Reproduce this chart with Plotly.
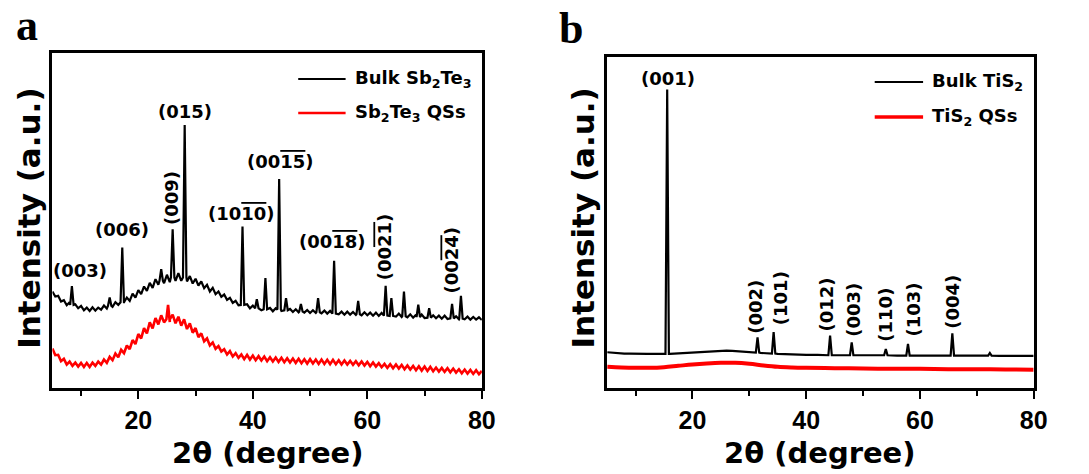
import plotly.graph_objects as go

# ---------------- Panel a : Sb2Te3 ----------------
a_x = [5.0,5.5,6.0,6.5,7.0,7.5,8.0,8.5,9.0,9.5,10.0,10.5,11.0,11.5,12.0,12.5,13.0,13.5,14.0,14.5,
       15.0,15.5,16.0,16.5,17.0,17.5,18.0,18.5,19.0,19.5,20.0,20.5,21.0,21.5,22.0,22.5,23.0,23.5,24.0,24.5,
       25.0,25.5,26.0,26.5,27.0,27.5,28.0,28.5,29.0,29.5,30.0,30.5,31.0,31.5,32.0,32.5,33.0,33.5,34.0,34.5,
       35.0,35.5,36.0,36.5,37.0,37.5,38.0,38.5,39.0,39.5,40.0,40.5,41.0,41.5,42.0,42.5,43.0,43.5,44.0,44.5,
       45.0,45.5,46.0,46.5,47.0,47.5,48.0,48.5,49.0,49.5,50.0,50.5,51.0,51.5,52.0,52.5,53.0,53.5,54.0,54.5,
       55.0,55.5,56.0,56.5,57.0,57.5,58.0,58.5,59.0,59.5,60.0,60.5,61.0,61.5,62.0,62.5,63.0,63.5,64.0,64.5,
       65.0,65.5,66.0,66.5,67.0,67.5,68.0,68.5,69.0,69.5,70.0,70.5,71.0,71.5,72.0,72.5,73.0,73.5,74.0,74.5,
       75.0,75.5,76.0,76.5,77.0,77.5,78.0,78.5,79.0,79.5,80.0]
a_bulk = [28.8,27.3,27.5,25.8,26.2,24.7,25.6,24.4,25.0,23.8,24.5,23.2,24.0,23.0,24.1,23.1,24.0,23.4,24.6,23.7,
          25.3,24.2,25.6,24.8,26.2,25.3,27.0,26.0,28.2,27.0,29.2,28.0,30.3,29.0,31.4,29.9,32.5,30.8,33.4,31.3,
          33.8,31.6,34.2,32.0,34.3,32.0,34.0,31.8,33.4,31.2,32.6,30.6,31.8,29.8,30.8,28.8,29.9,28.0,28.8,27.2,
          27.9,26.3,26.9,25.4,26.0,24.7,25.4,24.3,25.0,23.8,24.6,23.5,24.3,23.2,24.0,23.0,23.9,22.9,23.8,22.9,
          23.0,23.7,22.8,23.6,22.7,23.5,22.6,23.4,22.5,23.3,22.4,23.2,22.4,23.6,22.3,23.1,22.2,23.0,22.1,22.9,
          22.0,22.8,21.9,22.8,21.9,22.7,21.8,22.9,21.7,22.6,21.7,22.5,21.6,22.5,21.5,22.4,21.5,22.3,21.5,22.3,
          21.3,22.2,21.2,22.1,21.1,22.0,21.0,21.9,21.0,21.9,20.9,21.8,20.8,21.7,20.8,21.6,20.7,21.6,20.6,21.5,
          20.6,21.4,20.5,21.4,20.5,21.3,20.4,21.2,20.4,21.1,20.3]
a_qs = [11.8,9.8,9.9,8.0,8.7,7.0,7.9,6.6,7.6,6.4,7.5,6.3,7.5,6.3,7.6,6.6,7.9,7.0,8.5,7.5,
        9.3,8.3,10.3,9.2,11.4,10.4,12.7,11.6,14.3,13.1,16.1,14.8,17.9,16.3,19.6,17.8,20.9,19.0,21.7,19.6,
        22.0,19.7,21.9,19.3,21.3,18.6,20.5,17.6,19.3,16.5,17.9,15.2,16.3,13.9,14.8,12.7,13.6,11.7,12.5,10.9,
        11.6,10.0,11.0,9.4,10.4,9.0,10.0,8.6,9.9,8.5,9.7,8.3,9.5,8.2,9.4,8.0,9.2,7.9,9.1,7.8,
        9.0,7.7,8.9,7.6,8.8,7.5,8.7,7.4,8.6,7.3,8.6,7.3,8.5,7.2,8.5,7.2,8.4,7.1,8.4,7.1,
        8.3,7.0,8.2,7.0,8.1,6.9,8.0,6.8,7.9,6.7,7.8,6.5,7.6,6.4,7.4,6.2,7.2,6.0,7.1,5.9,
        7.0,5.8,6.9,5.6,6.7,5.5,6.6,5.3,6.5,5.2,6.4,5.1,6.3,5.0,6.1,4.9,6.0,4.8,5.9,4.7,
        5.8,4.6,5.6,4.4,5.5,4.3,5.4,4.2,5.3,4.1,5.1]
# Bragg peaks of bulk Sb2Te3: position, apex height, foot level
a_peak_x    = [8.4, 15.0, 17.2, 24.0, 26.0, 28.1, 38.2, 40.7, 42.2, 44.6, 45.8, 48.4, 51.4, 54.2,
               58.4, 63.2, 64.2, 66.4, 68.9, 70.8, 74.8, 76.35]
a_peak_top  = [30.4, 27.0, 41.9, 35.5, 47.4, 78.5, 48.2, 26.5, 32.8, 62.4, 26.8, 25.1, 26.8, 38.0,
               26.0, 30.5, 26.8, 28.8, 24.9, 23.8, 25.1, 27.5]
a_peak_foot = [24.8, 24.5, 25.6, 32.0, 33.0, 33.0, 24.8, 23.8, 23.5, 23.4, 23.2, 22.8, 22.6, 22.2,
               22.0, 21.6, 21.5, 21.4, 21.2, 21.0, 20.8, 20.7]
a_qs_spike_x = [25.2]
a_qs_spike_top = [24.8]
a_qs_spike_foot = [20.5]

OL = "<span style='text-decoration:overline'>{}</span>"
a_labels = ["(003)", "(006)", "(015)", "(009)", "(10" + OL.format("10") + ")",
            "(00" + OL.format("15") + ")", "(00" + OL.format("18") + ")",
            "(00" + OL.format("21") + ")", "(00" + OL.format("24") + ")"]
a_label_x = [9.75, 17.2, 28.2, 25.7, 38.0, 44.8, 53.9, 63.15, 74.7]
a_label_y = [35.2, 47.2, 82.5, 56.7, 52.2, 67.5, 43.6, 42.1, 38.2]
a_label_rot = [0, 0, 0, -90, 0, 0, 0, -90, -90]

# ---------------- Panel b : TiS2 ----------------
b_x = [5,6,7,8,9,10,11,12,13,14,15,16,17,18,19,20,21,22,23,24,25,26,27,28,29,30,31,32,33,34,35,36,37,38,39,40,
       42,44,46,48,50,52,54,56,58,60,62,64,66,68,70,72,74,76,78,80]
b_bulk = [10.8,10.6,10.5,10.4,10.4,10.3,10.3,10.3,10.3,10.3,10.3,10.3,10.4,10.5,10.7,10.9,11.0,11.1,11.2,11.3,
          11.3,11.3,11.2,11.1,11.0,10.9,10.7,10.6,10.5,10.4,10.3,10.2,10.1,10.1,10.0,10.0,
          10.0,9.9,9.9,9.9,9.9,9.9,9.9,9.8,9.8,9.8,9.8,9.8,9.8,9.8,9.8,9.8,9.7,9.7,9.7,9.7]
b_peak_x    = [15.55, 31.44, 34.27, 44.2, 48.0, 54.0, 57.9, 65.7, 72.3]
b_peak_top  = [90.2, 15.3, 16.9, 15.8, 13.8, 11.8, 13.3, 16.5, 10.6]
b_peak_foot = [10.3, 10.7, 10.4, 9.9, 9.9, 9.9, 9.8, 9.8, 9.8]
b_qs_x = [5, 7.5, 10, 12.5, 15, 17.5, 20, 22.5, 25, 27.5, 30, 32.5, 35, 37.5, 40, 45, 50, 55, 60, 65, 70, 75, 80]
b_qs = [6.4, 6.2, 6.1, 6.1, 6.3, 6.7, 7.1, 7.4, 7.6, 7.6, 7.3, 6.8, 6.4, 6.2, 6.1, 6.0, 5.9, 5.8, 5.8, 5.7, 5.7, 5.6, 5.5]

b_labels = ["(001)", "(002)", "(101)", "(012)", "(003)", "(110)", "(103)", "(004)"]
b_label_x = [15.7, 31.15, 35.6, 43.6, 48.4, 54.0, 58.9, 65.8]
b_label_y = [93.4, 24.5, 27.2, 25.1, 23.6, 22.1, 23.6, 26.0]
b_label_rot = [0, -90, -90, -90, -90, -90, -90, -90]

x_major_ticks = [20, 40, 60, 80]
x_minor_ticks = [10, 30, 50, 70]

HW = 0.3  # half width of drawn Bragg peaks (degrees)


def with_peaks(xs, ys, px, ptop, pfoot):
    pts = [(x, y) for x, y in zip(xs, ys) if all(abs(x - p) > HW for p in px)]
    for p, t, f in zip(px, ptop, pfoot):
        pts += [(p - HW, f), (p, t), (p + HW, f)]
    pts.sort()
    return [p[0] for p in pts], [p[1] for p in pts]


ax_bulk_x, ax_bulk_y = with_peaks(a_x, a_bulk, a_peak_x, a_peak_top, a_peak_foot)
ax_qs_x, ax_qs_y = with_peaks(a_x, a_qs, a_qs_spike_x, a_qs_spike_top, a_qs_spike_foot)
bx_bulk_x, bx_bulk_y = with_peaks(b_x, b_bulk, b_peak_x, b_peak_top, b_peak_foot)

FONT = "DejaVu Sans"
TICKFONT = "Liberation Sans"
W, H = 1089, 474
OFF = 8  # page body margin of the html page


def PX(x):  # page pixel -> paper x
    return (x - OFF) / W


def PY(y):  # page pixel -> paper y
    return 1 - (y - OFF) / H


fig = go.Figure()
fig.add_trace(go.Scatter(x=ax_bulk_x, y=ax_bulk_y, mode="lines", line=dict(color="black", width=2.2),
                         xaxis="x", yaxis="y", showlegend=False, name="Bulk Sb2Te3"))
fig.add_trace(go.Scatter(x=ax_qs_x, y=ax_qs_y, mode="lines", line=dict(color="#ff0000", width=2.6),
                         xaxis="x", yaxis="y", showlegend=False, name="Sb2Te3 QSs"))
fig.add_trace(go.Scatter(x=b_qs_x, y=b_qs, mode="lines", line=dict(color="#ff0000", width=4, shape="spline"),
                         xaxis="x2", yaxis="y2", showlegend=False, name="TiS2 QSs"))
fig.add_trace(go.Scatter(x=bx_bulk_x, y=bx_bulk_y, mode="lines", line=dict(color="black", width=2.2),
                         xaxis="x2", yaxis="y2", showlegend=False, name="Bulk TiS2"))

xaxis_common = dict(range=[5, 80], tickmode="array", tickvals=x_major_ticks, ticks="outside", ticklen=8,
                    tickwidth=2, tickcolor="black", showline=True, linewidth=3, linecolor="black", mirror=True,
                    showgrid=False, zeroline=False,
                    minor=dict(tickmode="array", tickvals=x_minor_ticks, ticks="outside", ticklen=5,
                               tickwidth=2, tickcolor="black", showgrid=False),
                    tickfont=dict(family=TICKFONT, size=25, color="black", weight="bold"))
yaxis_common = dict(range=[0, 100], showticklabels=False, ticks="", showline=True, linewidth=3,
                    linecolor="black", mirror=True, showgrid=False, zeroline=False)

fig.update_layout(
    width=W, height=H, margin=dict(l=0, r=0, t=0, b=0),
    paper_bgcolor="white", plot_bgcolor="white",
    xaxis=dict(domain=[PX(53), PX(488)], anchor="y", **xaxis_common),
    yaxis=dict(domain=[PY(388), PY(53)], anchor="x", **yaxis_common),
    xaxis2=dict(domain=[PX(615), PX(1047)], anchor="y2", **xaxis_common),
    yaxis2=dict(domain=[PY(388), PY(57)], anchor="x2", **yaxis_common),
)

ann = []
lab_font = dict(family=FONT, size=18, color="black", weight="bold")
for t, x, y, r in zip(a_labels, a_label_x, a_label_y, a_label_rot):
    ann.append(dict(text=t, x=x, y=y, xref="x", yref="y", showarrow=False, textangle=r, font=lab_font,
                    xanchor="center", yanchor="middle"))
for t, x, y, r in zip(b_labels, b_label_x, b_label_y, b_label_rot):
    ann.append(dict(text=t, x=x, y=y, xref="x2", yref="y2", showarrow=False, textangle=r, font=lab_font,
                    xanchor="center", yanchor="middle"))

# axis titles
title_font_y = dict(family=FONT, size=31, color="black", weight="bold")
title_font_x = dict(family=FONT, size=29, color="black", weight="bold")
for cx in (29, 590):
    ann.append(dict(text="Intensity (a.u.)", x=PX(cx), y=PY(218), xref="paper", yref="paper",
                    showarrow=False, textangle=-90, font=title_font_y, xanchor="center", yanchor="middle"))
for cx in (271, 831):
    ann.append(dict(text="2θ (degree)", x=PX(cx), y=PY(453), xref="paper", yref="paper",
                    showarrow=False, font=title_font_x, xanchor="center", yanchor="middle"))

# panel letters
for t, cx, cy in (("a", 27, 26), ("b", 578, 28)):
    ann.append(dict(text=t, x=PX(cx), y=PY(cy), xref="paper", yref="paper", showarrow=False,
                    font=dict(family="Liberation Serif", size=44, color="black", weight="bold"),
                    xanchor="center", yanchor="middle"))

# legends (drawn manually)
leg_font = dict(family=FONT, size=18, color="black", weight="bold")
shapes = []
legend_items = [
    (302, 350, 79, "black", 2.2, 357, "Bulk Sb<sub>2</sub>Te<sub>3</sub>"),
    (302, 350, 113, "#ff0000", 2.6, 357, "Sb<sub>2</sub>Te<sub>3</sub> QSs"),
    (886, 935, 82, "black", 2.2, 942, "Bulk TiS<sub>2</sub>"),
    (886, 935, 117, "#ff0000", 3.5, 942, "TiS<sub>2</sub> QSs"),
]
for x0, x1, yy, col, lw, tx, txt in legend_items:
    shapes.append(dict(type="line", xref="paper", yref="paper", x0=PX(x0), x1=PX(x1), y0=PY(yy), y1=PY(yy),
                       line=dict(color=col, width=lw)))
    ann.append(dict(text=txt, x=PX(tx), y=PY(yy), xref="paper", yref="paper", showarrow=False,
                    font=leg_font, xanchor="left", yanchor="middle"))

fig.update_layout(annotations=ann, shapes=shapes)
fig.write_html("out.html")
